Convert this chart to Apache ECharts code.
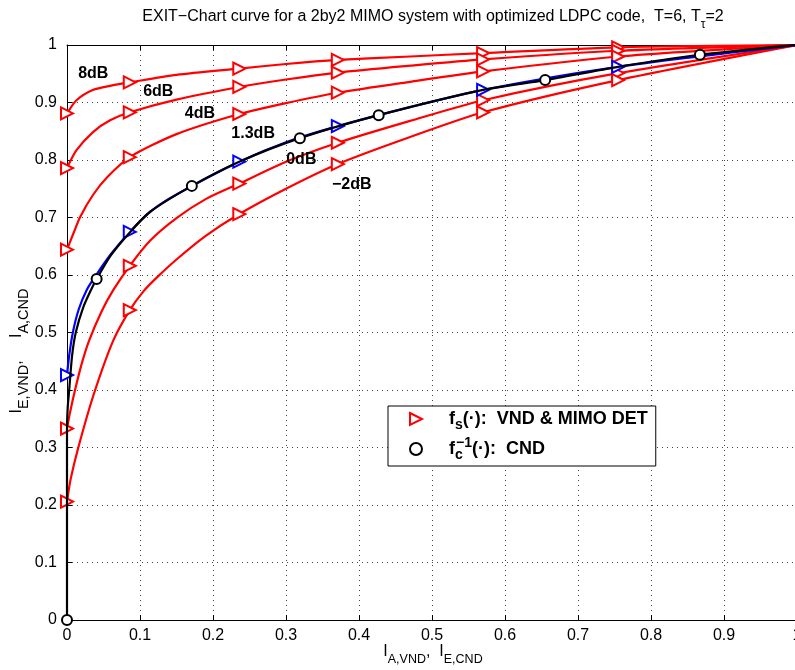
<!DOCTYPE html>
<html><head><meta charset="utf-8">
<script src="https://cdn.jsdelivr.net/npm/echarts@6/dist/echarts.min.js"></script>
<style>html,body{margin:0;padding:0;background:#fff}#c{width:795px;height:670px}</style>
</head><body><div id="c"></div>
<script>
// ---- data ----
const tickLabels = ['0','0.1','0.2','0.3','0.4','0.5','0.6','0.7','0.8','0.9','1'];
const markerX = [0, 0.086, 0.236, 0.371, 0.570, 0.755];

const x8dB = [0, 0.013, 0.036, 0.059, 0.086, 0.15, 0.236, 0.3, 0.371, 0.47, 0.570, 0.755, 1];
const y8dB = [0.881, 0.904, 0.922, 0.929, 0.935, 0.948, 0.959, 0.967, 0.974, 0.980, 0.986, 0.996, 1];

const x6dB = [0, 0.013, 0.036, 0.059, 0.086, 0.15, 0.236, 0.3, 0.371, 0.47, 0.570, 0.755, 1];
const y6dB = [0.786, 0.817, 0.849, 0.869, 0.883, 0.905, 0.927, 0.940, 0.952, 0.964, 0.975, 0.990, 1];

const x4dB = [0, 0.009, 0.018, 0.036, 0.055, 0.086, 0.15, 0.236, 0.3, 0.371, 0.47, 0.570, 0.755, 1];
const y4dB = [0.644, 0.673, 0.701, 0.740, 0.770, 0.805, 0.845, 0.880, 0.899, 0.917, 0.936, 0.954, 0.980, 1];

const x13dB = [0, 0.003, 0.008, 0.016, 0.027, 0.04, 0.06, 0.086, 0.115, 0.15, 0.236, 0.3, 0.371, 0.47, 0.570, 0.755, 1];
const y13dB = [0.426, 0.46, 0.50, 0.54, 0.574, 0.60, 0.636, 0.675, 0.711, 0.740, 0.797, 0.831, 0.859, 0.892, 0.922, 0.962, 1];

const x0dB = [0, 0.004, 0.011, 0.02, 0.03, 0.0475, 0.0635, 0.086, 0.114, 0.15, 0.19, 0.236, 0.3, 0.371, 0.47, 0.570, 0.755, 1];
const y0dB = [0.333, 0.36, 0.40, 0.445, 0.485, 0.537, 0.574, 0.616, 0.660, 0.699, 0.732, 0.759, 0.797, 0.830, 0.868, 0.904, 0.951, 1];

const xm2dB = [0, 0.005, 0.0155, 0.036, 0.063, 0.086, 0.105, 0.125, 0.15, 0.19, 0.236, 0.3, 0.371, 0.47, 0.570, 0.755, 1];
const ym2dB = [0.206, 0.245, 0.30, 0.39, 0.485, 0.539, 0.572, 0.598, 0.627, 0.668, 0.706, 0.750, 0.793, 0.840, 0.883, 0.939, 1];

const xCND = [0, 0, 0.001, 0.003, 0.007, 0.012, 0.022, 0.034, 0.0406, 0.06, 0.086, 0.114, 0.171, 0.236, 0.319, 0.427, 0.570, 0.655, 0.755, 0.867, 1];
const yCND = [0, 0.33, 0.37, 0.40, 0.46, 0.50, 0.543, 0.577, 0.593, 0.634, 0.674, 0.710, 0.755, 0.797, 0.838, 0.878, 0.922, 0.939, 0.962, 0.983, 1];
const cndMarkers = [0, 8, 12, 14, 15, 17, 19];

const dbLabels = ['8dB', '6dB', '4dB', '1.3dB', '0dB', '\u22122dB'];
const dbLabelX = [0.036, 0.125, 0.182, 0.255, 0.321, 0.390];
const dbLabelY = [0.951, 0.919, 0.881, 0.846, 0.800, 0.757];

// ---- build ----
const FONT = 'Liberation Sans, Arial, sans-serif';
function vndSeries(xs, ys, name, color) {
  return {
    type: 'line', name: name, z: 3,
    data: xs.map((x, i) => ({
      value: [x, ys[i]],
      symbol: markerX.indexOf(x) >= 0 ? 'emptyTriangle' : 'none'
    })),
    showAllSymbol: true,
    symbolSize: 12, symbolRotate: -90,
    smooth: 0.25,
    lineStyle: { color: color, width: 2.2 },
    itemStyle: { color: color, borderWidth: 1.6 },
    emphasis: { disabled: true }, animation: false
  };
}
const series = [
  vndSeries(x8dB, y8dB, 'vnd', '#ff0000'),
  vndSeries(x6dB, y6dB, 'vnd', '#ff0000'),
  vndSeries(x4dB, y4dB, 'vnd', '#ff0000'),
  vndSeries(x0dB, y0dB, 'vnd', '#ff0000'),
  vndSeries(xm2dB, ym2dB, 'vnd', '#ff0000'),
  vndSeries(x13dB, y13dB, 'vnd13', '#0000ff'),
  {
    type: 'line', name: 'cnd', z: 4,
    data: xCND.map((x, i) => ({ value: [x, yCND[i]], symbol: cndMarkers.indexOf(i) >= 0 ? 'emptyCircle' : 'none' })),
    showAllSymbol: true, symbolSize: 10, smooth: 0.25,
    lineStyle: { color: '#000', width: 2.2 },
    itemStyle: { color: '#000', borderWidth: 1.6 },
    emphasis: { disabled: true }, animation: false
  },
  {
    type: 'scatter', name: 'labels', z: 6, symbolSize: 0,
    itemStyle: { opacity: 1 },
    data: dbLabels.map((t, i) => ({ name: t, value: [dbLabelX[i], dbLabelY[i]] })),
    label: { show: true, position: 'inside', formatter: p => p.name, color: '#000', opacity: 1,
      textBorderWidth: 0, fontFamily: FONT, fontWeight: 'bold', fontSize: 16 },
    emphasis: { disabled: true }, animation: false
  }
];

const chart = echarts.init(document.getElementById('c'), null, { renderer: 'canvas' });
const axisCommon = {
  type: 'value', min: 0, max: 1, interval: 0.1,
  axisLine: { show: true, onZero: false, lineStyle: { color: '#000', width: 1 } },
  axisTick: { show: true, inside: true, length: 5, lineStyle: { color: '#000' } },
  splitLine: { show: true, lineStyle: { color: '#444', type: [1, 4], width: 1 } },
  axisLabel: { color: '#000', fontFamily: FONT, fontSize: 16, margin: 8,
    formatter: v => tickLabels[Math.round(v * 10)] }
};
chart.setOption({
  animation: false,
  backgroundColor: '#fff',
  grid: { left: 67, top: 45, width: 730, height: 575, containLabel: false, outerBoundsMode: 'none' },
  xAxis: [
    Object.assign({}, axisCommon, { position: 'bottom' }),
    Object.assign({}, axisCommon, { position: 'top', axisLabel: { show: false }, splitLine: { show: false } })
  ],
  yAxis: [
    Object.assign({}, axisCommon, { position: 'left', axisLabel: Object.assign({}, axisCommon.axisLabel, { margin: 10 }) })
  ],
  legend: {
    orient: 'vertical', left: 388, top: 406,
    backgroundColor: '#fff', borderColor: '#000', borderWidth: 1,
    padding: [4, 8, 4, 21], itemGap: 4, itemWidth: 12, itemHeight: 12,
    selectedMode: false,
    data: [
      { name: 'vnd', icon: 'path://M0,0L10,5L0,10Z', itemStyle: { color: '#fff', borderColor: '#ff0000', borderWidth: 2 } },
      { name: 'cnd', icon: 'circle', itemStyle: { color: '#fff', borderColor: '#000', borderWidth: 2 } }
    ],
    formatter: n => n === 'vnd'
      ? '{f|f}{sb|s}{m|(\u00b7):  VND & MIMO DET}'
      : '{f|f}{sbw|c}{sp|\u22121}{m|(\u00b7):  CND}',
    textStyle: {
      fontFamily: FONT, fontWeight: 'bold', color: '#000',
      rich: {
        f: { fontFamily: FONT, fontWeight: 'bold', fontSize: 18, lineHeight: 26, padding: [0, 0, 0, 22] },
        m: { fontFamily: FONT, fontWeight: 'bold', fontSize: 18, lineHeight: 26 },
        sb: { fontFamily: FONT, fontWeight: 'bold', fontSize: 14, verticalAlign: 'bottom' },
        sbw: { fontFamily: FONT, fontWeight: 'bold', fontSize: 14, verticalAlign: 'bottom', width: 1 },
        sp: { fontFamily: FONT, fontWeight: 'bold', fontSize: 14, verticalAlign: 'top' }
      }
    }
  },
  graphic: [
    { type: 'text', x: 433, y: 17, silent: true,
      style: { text: '{m|EXIT\u2212Chart curve for a 2by2 MIMO system with optimized LDPC code,  T=6, T}{s|\u03c4}{m|=2}',
        align: 'center', verticalAlign: 'middle',
        rich: { m: { fontFamily: FONT, fontSize: 16, lineHeight: 28, fill: '#000' },
                s: { fontFamily: FONT, fontSize: 12, verticalAlign: 'bottom', fill: '#000' } } } },
    { type: 'text', x: 433, y: 652, silent: true,
      style: { text: '{m|I}{s|A,VND}{m|,  I}{s|E,CND}', align: 'center', verticalAlign: 'middle',
        rich: { m: { fontFamily: FONT, fontSize: 16, lineHeight: 28, fill: '#000' },
                s: { fontFamily: FONT, fontSize: 12.5, verticalAlign: 'bottom', fill: '#000' } } } },
    { type: 'text', x: 17, y: 351, rotation: Math.PI / 2, silent: true,
      style: { text: '{m|I}{s|E,VND}{m|,     I}{s|A,CND}', align: 'center', verticalAlign: 'middle',
        rich: { m: { fontFamily: FONT, fontSize: 16, lineHeight: 28, fill: '#000' },
                s: { fontFamily: FONT, fontSize: 14.5, verticalAlign: 'bottom', fill: '#000' } } } }
  ],
  series: series
});
</script>
</body></html>
